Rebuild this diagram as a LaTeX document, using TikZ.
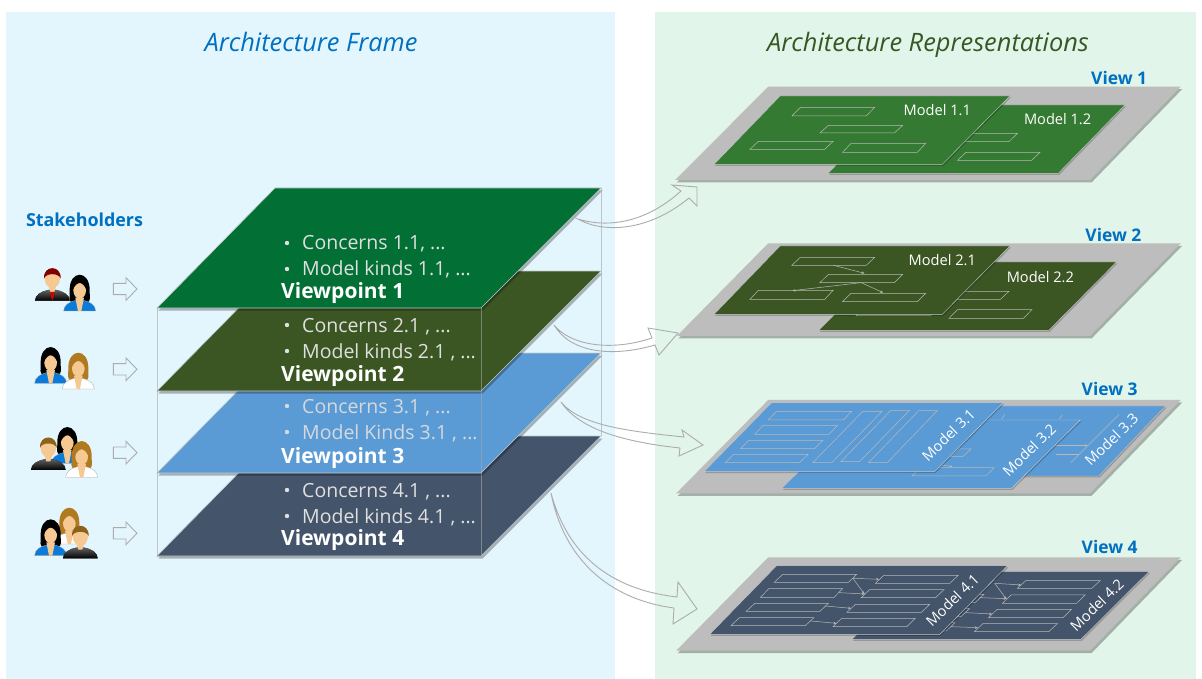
\documentclass[tikz,border=0pt]{standalone}
\usepackage{fontspec}
\setmainfont{Open Sans}
\definecolor{panelL}{HTML}{E3F5FD}
\definecolor{panelR}{HTML}{E2F5EA}
\definecolor{titleblue}{HTML}{0070C0}
\definecolor{titlegreen}{HTML}{385723}
\definecolor{vpA}{HTML}{027035}
\definecolor{vpB}{HTML}{3B5623}
\definecolor{vpC}{HTML}{5B9BD5}
\definecolor{vpD}{HTML}{44546A}
\definecolor{mdA}{HTML}{357A32}
\definecolor{viewgray}{HTML}{BDBDBD}
\definecolor{edge}{HTML}{C4C9C9}
\definecolor{skin}{HTML}{F6C892}
\definecolor{hairbrown}{HTML}{B07A20}
\definecolor{bluebody}{HTML}{0A7BDB}
\usetikzlibrary{arrows.meta}
\tikzset{
  fs/.style={font=\fontsize{#1}{#1}\selectfont},
  shad/.style={preaction={fill=black,draw=none,opacity=.28,transform canvas={shift={(1.5pt,-2.5pt)}}}},
  plate/.style={shad,fill=#1,draw=edge,line width=.6pt},
  mplate/.style={preaction={fill=black,draw=none,opacity=.2,transform canvas={shift={(1pt,-1.5pt)}}},fill=#1,draw=edge,line width=.4pt},
  wire/.style={draw=gray!70,opacity=.6,line width=.7pt},
  pbx/.style={draw=white!72!black,line width=.5pt},
  flow/.style={draw=white!72!black,line width=.5pt,-{Stealth[length=3pt,width=2.5pt]}},
  blockarrow/.style={draw=gray!65,line width=.9pt},
  bul/.style={anchor=base west,text=#1,fs=19.5,inner sep=0pt},
  vp/.style={anchor=base west,text=white,inner sep=0pt,font=\fontsize{21}{21}\selectfont\bfseries},
  mlabel/.style={text=white,fs=14.6,inner sep=0pt},
  vlabel/.style={text=titleblue,inner sep=0pt,font=\fontsize{17.4}{17.4}\selectfont\bfseries},
}
% parallelogram box: x1,x2 bottom-left/top-right, y1 top, y2 bottom
\newcommand{\pb}[4]{\draw[pbx] (#1,#4) -- (#1+25,#2) -- (#3,#2) -- (#3-25,#4) -- cycle;}
\newcommand{\bodyshape}{(-48,0) .. controls (-48,-18) and (-30,-28) .. (-12,-32) -- (12,-32) .. controls (30,-28) and (48,-18) .. (48,0) -- cycle}
\newcommand{\woman}[4]{% x,y,hair,body
  \begin{scope}[shift={(#1,#2)}]
    \fill[#3] (-30,-60) .. controls (-32,-125) and (32,-125) .. (30,-60) .. controls (30,-40) and (34,-30) .. (22,-25) -- (-22,-25) .. controls (-34,-30) and (-30,-40) .. (-30,-60) -- cycle;
    \filldraw[fill=#4,draw=gray!70,line width=.3pt] \bodyshape;
    \fill[skin] (-13,-40) -- (13,-40) -- (5,0) -- (-5,0) -- cycle;
    \fill[skin] (0,-62) ellipse [x radius=19,y radius=25];
    \fill[#3] (-20,-65) .. controls (-18,-100) and (18,-100) .. (20,-65) .. controls (14,-78) and (6,-84) .. (0,-84) .. controls (-6,-84) and (-14,-78) .. (-20,-65) -- cycle;
  \end{scope}}
\newcommand{\man}[3]{% x,y,hair
  \begin{scope}[shift={(#1,#2)}]
    \fill[top color=gray!75!black,bottom color=black] (-52,0) .. controls (-52,-18) and (-32,-28) .. (-12,-32) -- (12,-32) .. controls (32,-28) and (52,-18) .. (52,0) -- cycle;
    \fill[skin] (-11,-42) -- (11,-42) -- (6,-26) -- (-6,-26) -- cycle;
    \fill[skin] (0,-66) ellipse [x radius=23,y radius=28];
    \fill[#3] (-25,-66) .. controls (-28,-108) and (28,-108) .. (25,-66) .. controls (20,-84) and (-20,-84) .. (-25,-66) -- cycle;
  \end{scope}}
\begin{document}
\begin{tikzpicture}[x=1pt,y=-1pt]
\useasboundingbox (0,0) rectangle (1202,679);
\fill[white] (0,0) rectangle (1202,679);
\fill[panelL] (6,12) rectangle (615,679);
\fill[panelR] (655,12) rectangle (1196,679);
\node[text=titleblue,inner sep=0pt,anchor=base,font=\fontsize{25.4}{25.4}\selectfont\itshape] (tl) at (311,52) {Architecture Frame};
\node[text=titlegreen,inner sep=0pt,anchor=base,font=\fontsize{25.4}{25.4}\selectfont\itshape] (tr) at (928,52) {Architecture Representations};
\node[text=titleblue,inner sep=0pt,font=\fontsize{17.9}{18}\selectfont\bfseries] (sh) at (84.5,220) {Stakeholders};

% ---------- stakeholders
\begin{scope}[shift={(0,180)},xscale=.3333,yscale=.3333]
  \man{157}{362}{red!50!black}
  \fill[red!85!black] (151,336) -- (163,336) -- (161,350) -- (157,362) -- (153,350) -- cycle;
  \woman{239}{393}{black}{bluebody}
  \woman{152}{610}{black}{bluebody}
  \woman{235}{627}{hairbrown}{white}
  \woman{202}{850}{black}{bluebody}
  \man{145}{870}{hairbrown!80!black}
  \woman{245}{892}{hairbrown}{white}
  \woman{208}{1092}{hairbrown}{white}
  \woman{152}{1127}{black}{bluebody}
  \man{241}{1135}{hairbrown!80!black}
  \foreach \c in {327,568,818,1060}{
    \draw[blockarrow] (340,\c-17) -- (378,\c-17) -- (378,\c-34) -- (411,\c) -- (378,\c+34) -- (378,\c+17) -- (340,\c+17) -- cycle;
  }
\end{scope}

% ---------- viewpoint stack
\draw[plate=vpD] (157,556) -- (275,436) -- (601,436) -- (481,556) -- cycle;
\draw[plate=vpC] (157,473) -- (275,353) -- (601,353) -- (481,473) -- cycle;
\draw[plate=vpB] (157,391) -- (275,271) -- (601,271) -- (481,391) -- cycle;
\draw[plate=vpA] (157,308) -- (275,188) -- (601,188) -- (481,308) -- cycle;
\draw[wire] (157,308) -- (157,556) -- (481,556);
\draw[wire] (481,308) -- (481,556);
\draw[wire] (601,188) -- (601,436);

\foreach \n/\a/\b/\va/\vb/\vc/\tc/\txta/\txtb/\num in {
  a/250/276/250/276/298/E0E0E0/{Concerns 1.1, ...}/{Model kinds 1.1, ...}/1,
  b/332/358/332/358/381/E0E0E0/{Concerns 2.1 , ...}/{Model kinds 2.1 , ...}/2,
  c/413/439/413/439/463/D5D9DD/{Concerns 3.1 , ...}/{Model Kinds 3.1 , ...}/3,
  d/497/523/497/523/545/E0E0E0/{Concerns 4.1 , ...}/{Model kinds 4.1 , ...}/4}{
  \definecolor{tcol}{HTML}{\tc}
  \fill[tcol] (287,\a-7) circle (2.2);
  \fill[tcol] (287,\b-7) circle (2.2);
  \node[bul=tcol] (c\n) at (302,\va) {\txta};
  \node[bul=tcol] (m\n) at (302,\vb) {\txtb};
  \node[vp] (v\n) at (281,\vc) {Viewpoint \num};
}

% ---------- block arrows
\draw[blockarrow] (578,219) .. controls (600,226) and (640,228) .. (681,191) -- (672,185) -- (697,187) -- (697,206) -- (689,198) .. controls (645,234) and (600,232) .. (578,219) -- cycle;
\draw[blockarrow] (554,325) .. controls (570,345) and (610,352) .. (652,338) -- (648,328) -- (678,333) -- (659,355) -- (655,345) .. controls (610,358) and (570,352) .. (554,325) -- cycle;
\draw[blockarrow] (561,402) .. controls (580,425) and (625,431) .. (684,437) -- (682,430) -- (703,445) -- (679,456) -- (680,448) .. controls (625,442) and (580,430) .. (561,402) -- cycle;
\draw[blockarrow] (551,493) .. controls (565,545) and (600,588) .. (677,597) -- (678,582) -- (697,609) -- (673,624) -- (674,608) .. controls (600,598) and (562,550) .. (551,493) -- cycle;

% ---------- views 1 and 2
\begin{scope}[shift={(660,60)},xscale=.3381,yscale=.3333]
  \draw[shad,fill=viewgray,draw=none] (320,80) -- (1540,80) -- (1272,360) -- (45,360) -- cycle;
  \draw[mplate=mdA] (1375,135) -- (1178,340) -- (497,340) -- (695,135) -- cycle;
  \pb{810}{220}{1057}{245}
  \pb{880}{277}{1124}{301}
  \draw[mplate=mdA] (355,108) -- (1035,108) -- (835,313) -- (160,313) -- cycle;
  \pb{390}{142}{635}{168}
  \pb{473}{196}{718}{219}
  \pb{266}{244}{512}{268}
  \pb{540}{250}{786}{277}
  \node[mlabel] (m11) at (820,150) {Model 1.1};
  \node[mlabel] (m12) at (1176,177) {Model 1.2};
  \node[vlabel] (v1) at (1358,53) {View 1};

  \draw[shad,fill=viewgray,draw=none] (320,550) -- (1540,550) -- (1272,828) -- (50,828) -- cycle;
  \draw[mplate=vpB] (1350,606) -- (1150,811) -- (470,811) -- (670,606) -- cycle;
  \pb{785}{694}{1032}{718}
  \pb{855}{749}{1100}{775}
  \pb{580}{742}{825}{767}
  \draw[mplate=vpB] (355,558) -- (1035,558) -- (835,763) -- (160,763) -- cycle;
  \pb{390}{592}{635}{616}
  \pb{473}{643}{718}{668}
  \pb{266}{691}{512}{718}
  \pb{540}{700}{786}{725}
  \draw[flow] (513,616) -- (605,640);
  \draw[flow] (595,668) -- (392,692);
  \draw[flow] (595,668) -- (660,698);
  \node[mlabel] (m21) at (835,599) {Model 2.1};
  \node[mlabel] (m22) at (1125,650) {Model 2.2};
  \node[vlabel] (v2) at (1341,525) {View 2};
\end{scope}

% ---------- views 3 and 4
\begin{scope}[shift={(660,370)},xscale=.3381,yscale=.3333]
  \draw[shad,fill=viewgray,draw=none] (320,90) -- (1540,90) -- (1272,370) -- (48,370) -- cycle;
  \draw[mplate=vpC] (1495,108) -- (1298,318) -- (610,318) -- (815,108) -- cycle;
  \draw[pbx] (1010,148) -- (1020,133);
  \draw[pbx] (1180,148) -- (1190,135);
  \draw[flow] (1165,226) -- (1265,226);
  \draw[pbx] (1170,252) -- (1240,252);
  \draw[pbx] (1215,278) -- (1358,133);
  \draw[mplate=vpC] (1243,150) -- (1040,355) -- (360,355) -- (565,150) -- cycle;
  \pb{860}{237}{920}{260}
  \pb{745}{293}{988}{318}
  \draw[flow] (830,285) -- (865,290);
  \draw[mplate=vpC] (1015,98) -- (812,305) -- (130,305) -- (330,98) -- cycle;
  \draw[pbx] (320,150) -- (345,124) -- (567,124) -- (542,150) -- cycle;
  \draw[pbx] (280,193) -- (305,166) -- (525,166) -- (500,193) -- cycle;
  \draw[pbx] (238,236) -- (263,211) -- (482,211) -- (457,236) -- cycle;
  \draw[pbx] (193,278) -- (218,253) -- (438,253) -- (413,278) -- cycle;
  \draw[pbx] (452,278) -- (600,124) -- (657,124) -- (508,278) -- cycle;
  \draw[pbx] (535,275) -- (683,121) -- (738,121) -- (590,275) -- cycle;
  \draw[pbx] (617,278) -- (765,122) -- (820,122) -- (672,278) -- cycle;
  \node[mlabel,rotate=44] (m31) at (853,195) {Model 3.1};
  \node[mlabel,rotate=44] (m32) at (1092,240) {Model 3.2};
  \node[mlabel,rotate=44] (m33) at (1335,208) {Model 3.3};
  \node[vlabel] (v3) at (1330,57) {View 3};

  \draw[shad,fill=viewgray,draw=none] (320,562) -- (1540,562) -- (1272,842) -- (48,842) -- cycle;
  \draw[mplate=vpD] (1447,604) -- (1245,808) -- (568,808) -- (770,604) -- cycle;
  \pb{742}{630}{988}{653}
  \pb{700}{673}{958}{697}
  \pb{660}{716}{915}{740}
  \pb{620}{758}{872}{783}
  \pb{1057}{632}{1302}{655}
  \pb{1013}{675}{1257}{700}
  \pb{972}{718}{1217}{743}
  \pb{930}{761}{1175}{785}
  \draw[flow] (990,640) -- (1068,645);
  \draw[flow] (990,640) -- (1025,688);
  \draw[flow] (945,683) -- (1025,686);
  \draw[flow] (905,728) -- (982,732);
  \draw[flow] (860,770) -- (940,773);
  \draw[mplate=vpD] (345,587) -- (1028,587) -- (828,793) -- (147,793) -- cycle;
  \pb{338}{613}{582}{637}
  \pb{297}{656}{540}{682}
  \pb{255}{700}{498}{724}
  \pb{210}{743}{455}{767}
  \pb{637}{616}{882}{640}
  \pb{595}{659}{840}{683}
  \pb{553}{703}{798}{727}
  \pb{512}{745}{755}{770}
  \draw[flow] (570,625) -- (648,628);
  \draw[flow] (570,625) -- (605,672);
  \draw[flow] (530,668) -- (605,672);
  \draw[flow] (488,708) -- (565,715);
  \draw[flow] (445,753) -- (522,760);
  \node[mlabel,rotate=44] (m41) at (865,690) {Model 4.1};
  \node[mlabel,rotate=44] (m42) at (1292,705) {Model 4.2};
  \node[vlabel] (v4) at (1330,532) {View 4};
\end{scope}
\end{tikzpicture}
\end{document}
